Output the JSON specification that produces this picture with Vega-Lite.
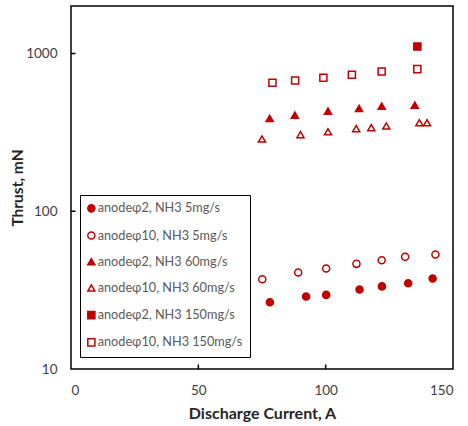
{
  "$schema": "https://vega.github.io/schema/vega-lite/v6.json",
  "autosize": {"type": "none"},
  "width": 382,
  "height": 363,
  "padding": {"left": 71, "top": 6, "right": 15, "bottom": 57},
  "background": "white",
  "config": {
    "view": {"stroke": "black", "strokeWidth": 1.5},
    "font": "Lato"
  },
  "layer": [
    {
      "data": {
        "values": [
          {"s": "anodeφ2, NH3 5mg/s", "x": 78.1, "y": 26.5},
          {"s": "anodeφ2, NH3 5mg/s", "x": 92.3, "y": 28.8},
          {"s": "anodeφ2, NH3 5mg/s", "x": 100.2, "y": 29.5},
          {"s": "anodeφ2, NH3 5mg/s", "x": 113.3, "y": 31.9},
          {"s": "anodeφ2, NH3 5mg/s", "x": 122.1, "y": 33.4},
          {"s": "anodeφ2, NH3 5mg/s", "x": 132.4, "y": 35},
          {"s": "anodeφ2, NH3 5mg/s", "x": 142, "y": 37.5},
          {"s": "anodeφ10, NH3 5mg/s", "x": 75.1, "y": 37.1},
          {"s": "anodeφ10, NH3 5mg/s", "x": 89.2, "y": 40.9},
          {"s": "anodeφ10, NH3 5mg/s", "x": 100.2, "y": 43.4},
          {"s": "anodeφ10, NH3 5mg/s", "x": 112.1, "y": 46.4},
          {"s": "anodeφ10, NH3 5mg/s", "x": 122, "y": 48.9},
          {"s": "anodeφ10, NH3 5mg/s", "x": 131.2, "y": 51.4},
          {"s": "anodeφ10, NH3 5mg/s", "x": 143.1, "y": 53.2},
          {"s": "anodeφ2, NH3 60mg/s", "x": 78, "y": 388},
          {"s": "anodeφ2, NH3 60mg/s", "x": 87.9, "y": 407},
          {"s": "anodeφ2, NH3 60mg/s", "x": 100.9, "y": 431},
          {"s": "anodeφ2, NH3 60mg/s", "x": 113.1, "y": 449},
          {"s": "anodeφ2, NH3 60mg/s", "x": 122, "y": 464},
          {"s": "anodeφ2, NH3 60mg/s", "x": 135, "y": 471},
          {"s": "anodeφ10, NH3 60mg/s", "x": 75, "y": 287},
          {"s": "anodeφ10, NH3 60mg/s", "x": 90.1, "y": 306},
          {"s": "anodeφ10, NH3 60mg/s", "x": 100.9, "y": 319},
          {"s": "anodeφ10, NH3 60mg/s", "x": 112, "y": 334},
          {"s": "anodeφ10, NH3 60mg/s", "x": 117.9, "y": 339},
          {"s": "anodeφ10, NH3 60mg/s", "x": 123.8, "y": 347},
          {"s": "anodeφ10, NH3 60mg/s", "x": 136.8, "y": 364},
          {"s": "anodeφ10, NH3 60mg/s", "x": 139.8, "y": 364},
          {"s": "anodeφ2, NH3 150mg/s", "x": 136, "y": 1107},
          {"s": "anodeφ10, NH3 150mg/s", "x": 79.1, "y": 653},
          {"s": "anodeφ10, NH3 150mg/s", "x": 88, "y": 675},
          {"s": "anodeφ10, NH3 150mg/s", "x": 99.1, "y": 702},
          {"s": "anodeφ10, NH3 150mg/s", "x": 110.3, "y": 733},
          {"s": "anodeφ10, NH3 150mg/s", "x": 122, "y": 769},
          {"s": "anodeφ10, NH3 150mg/s", "x": 136, "y": 796}
        ]
      },
      "mark": {"type": "point", "filled": true, "strokeWidth": 1.5, "size": 50, "opacity": 1},
      "encoding": {
        "x": {
          "field": "x", "type": "quantitative",
          "scale": {"domain": [0, 150], "nice": false},
          "axis": {
            "values": [0, 50, 100, 150],
            "title": "Discharge Current, A",
            "grid": false, "domain": false, "ticks": false,
            "labelPadding": 14, "labelFontSize": 13.5, "labelColor": "#404040",
            "titleFontSize": 16, "titleFontWeight": "bold", "titleColor": "#262626", "titlePadding": 9
          }
        },
        "y": {
          "field": "y", "type": "quantitative",
          "scale": {"type": "log", "domain": [10, 2000], "nice": false},
          "axis": {
            "values": [10, 100, 1000],
            "format": "d",
            "title": "Thrust, mN",
            "grid": false, "domain": false, "ticks": false,
            "labelPadding": 14, "labelFontSize": 13.5, "labelColor": "#404040",
            "titleFontSize": 15.5, "titleFontWeight": "bold", "titleColor": "#262626", "titlePadding": 0
          }
        },
        "shape": {
          "field": "s", "type": "nominal",
          "scale": {
            "domain": ["anodeφ2, NH3 5mg/s", "anodeφ10, NH3 5mg/s", "anodeφ2, NH3 60mg/s", "anodeφ10, NH3 60mg/s", "anodeφ2, NH3 150mg/s", "anodeφ10, NH3 150mg/s"],
            "range": ["circle", "circle", "triangle-up", "triangle-up", "square", "square"]
          },
          "legend": {
            "title": null, "orient": "none", "legendX": 9, "legendY": 189,
            "strokeColor": "black", "fillColor": "white", "padding": 7,
            "symbolSize": 50, "symbolStrokeWidth": 1.5, "symbolOffset": -2,
            "labelFontSize": 12.7, "labelColor": "#595959", "labelLimit": 300,
            "rowPadding": 12.2, "labelOffset": 0
          }
        },
        "fill": {
          "field": "s", "type": "nominal",
          "scale": {
            "domain": ["anodeφ2, NH3 5mg/s", "anodeφ10, NH3 5mg/s", "anodeφ2, NH3 60mg/s", "anodeφ10, NH3 60mg/s", "anodeφ2, NH3 150mg/s", "anodeφ10, NH3 150mg/s"],
            "range": ["#C00000", "white", "#C00000", "white", "#C00000", "white"]
          },
          "legend": {
            "title": null, "orient": "none", "legendX": 9, "legendY": 189,
            "strokeColor": "black", "fillColor": "white", "padding": 7,
            "symbolSize": 50, "symbolStrokeWidth": 1.5, "symbolOffset": -2,
            "labelFontSize": 12.7, "labelColor": "#595959", "labelLimit": 300,
            "rowPadding": 12.2, "labelOffset": 0
          }
        },
        "stroke": {
          "field": "s", "type": "nominal",
          "scale": {
            "domain": ["anodeφ2, NH3 5mg/s", "anodeφ10, NH3 5mg/s", "anodeφ2, NH3 60mg/s", "anodeφ10, NH3 60mg/s", "anodeφ2, NH3 150mg/s", "anodeφ10, NH3 150mg/s"],
            "range": ["#C00000", "#C00000", "#C00000", "#C00000", "#C00000", "#C00000"]
          },
          "legend": {
            "title": null, "orient": "none", "legendX": 9, "legendY": 189,
            "strokeColor": "black", "fillColor": "white", "padding": 7,
            "symbolSize": 50, "symbolStrokeWidth": 1.5, "symbolOffset": -2,
            "labelFontSize": 12.7, "labelColor": "#595959", "labelLimit": 300,
            "rowPadding": 12.2, "labelOffset": 0
          }
        }
      }
    },
    {
      "data": {"values": [{"t": 50}, {"t": 100}]},
      "mark": {"type": "tick", "orient": "vertical", "color": "black", "size": 9, "thickness": 1.5, "clip": true, "opacity": 1},
      "encoding": {
        "x": {"field": "t", "type": "quantitative"},
        "y": {"datum": 10, "type": "quantitative"}
      }
    },
    {
      "data": {"values": [{"t": 100}, {"t": 1000}]},
      "mark": {"type": "tick", "orient": "horizontal", "color": "black", "size": 9, "thickness": 1.5, "clip": true, "opacity": 1},
      "encoding": {
        "y": {"field": "t", "type": "quantitative"},
        "x": {"datum": 0, "type": "quantitative"}
      }
    }
  ]
}
